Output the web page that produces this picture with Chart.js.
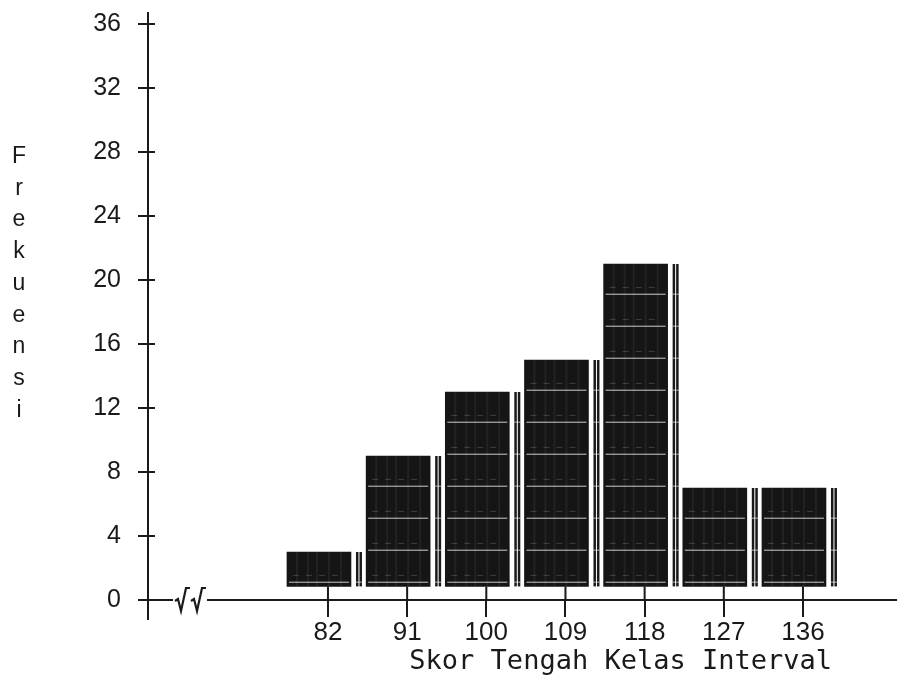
<!DOCTYPE html>
<html>
<head>
<meta charset="utf-8">
<script src="https://cdn.jsdelivr.net/npm/chart.js"></script>
<style>
  body { margin: 0; background: #fff; }
  #wrap { width: 897px; height: 678px; }
</style>
</head>
<body>
<div id="wrap"><canvas id="histo" width="897" height="678"></canvas></div>
<script>
// data
const midpoints = [82, 91, 100, 109, 118, 127, 136];
const frequencies = [3, 9, 13, 15, 21, 7, 7];
const yTicks = [0, 4, 8, 12, 16, 20, 24, 28, 32, 36];
const yTitleLetters = ['F', 'r', 'e', 'k', 'u', 'e', 'n', 's', 'i'];
const xTitle = 'Skor Tengah Kelas Interval';

const INK = '#1a1a1a';
const BAR_BASE = 0.85;   // bars sit a little above the zero line in the print

Chart.defaults.font.family = "'Liberation Sans', Arial, sans-serif";
Chart.defaults.color = INK;

// shift bars a bit left of the tick, as in the print (the striped strip sits on the right)
const shiftBars = {
  id: 'shiftBars',
  afterDatasetsUpdate(chart) {
    chart.getDatasetMeta(0).data.forEach(bar => { bar.x -= 9; });
  }
};

// scan-like texture: white scratch lines and the double strip on the right of each bar
const barTexture = {
  id: 'barTexture',
  afterDatasetsDraw(chart) {
    const ctx = chart.ctx;
    const yScale = chart.scales.y;
    const meta = chart.getDatasetMeta(0);
    ctx.save();
    meta.data.forEach((bar, i) => {
      const w = bar.width;
      const left = bar.x - w / 2;
      const right = bar.x + w / 2;
      const top = bar.y;
      const bottom = bar.base;
      // strip
      ctx.fillStyle = INK;
      ctx.fillRect(right + 5, top, 2.5, bottom - top);
      ctx.fillRect(right + 8.5, top, 2.5, bottom - top);
      // vertical streaks
      ctx.fillStyle = 'rgba(255,255,255,0.06)';
      [9, 20, 29, 41, 53].forEach(dx => ctx.fillRect(left + dx, top, 2, bottom - top));
      // horizontal scratches
      for (let v = 1.15; v < frequencies[i] - 0.3; v += 2) {
        const y = yScale.getPixelForValue(v);
        ctx.fillStyle = 'rgba(255,255,255,0.6)';
        ctx.fillRect(left + 2, y, w - 4, 1.3);
        ctx.fillRect(right + 5, y, 6, 1.1);
        const y2 = yScale.getPixelForValue(v + 0.42);
        if (v + 0.42 < frequencies[i] - 0.3) {
          ctx.fillStyle = 'rgba(255,255,255,0.18)';
          for (let x = left + 6; x < right - 8; x += 13) ctx.fillRect(x, y2, 6, 1);
        }
      }
    });
    ctx.restore();
  }
};

// axis extras: ticks crossing the axes, axis break mark, stacked y title
const axisExtras = {
  id: 'axisExtras',
  afterDraw(chart) {
    const ctx = chart.ctx;
    const x = chart.scales.x;
    const y = chart.scales.y;
    const area = chart.chartArea;
    const zero = y.getPixelForValue(0);
    const base = y.getPixelForValue(BAR_BASE);
    ctx.save();
    ctx.strokeStyle = INK;
    ctx.lineWidth = 2;
    ctx.beginPath();
    // y axis runs a little below zero
    ctx.moveTo(area.left, area.bottom);
    ctx.lineTo(area.left, area.bottom + 20);
    // inner halves of the y ticks
    yTicks.slice(1).forEach(v => {
      const py = y.getPixelForValue(v);
      ctx.moveTo(area.left, py);
      ctx.lineTo(area.left + 7, py);
    });
    // x ticks reach up to the bar bottoms
    midpoints.forEach(v => {
      const px = x.getPixelForValue(v);
      ctx.moveTo(px, zero);
      ctx.lineTo(px, base);
    });
    ctx.stroke();

    // axis break: two root-like strokes
    ctx.fillStyle = '#fff';
    ctx.fillRect(area.left + 25, zero - 3, 34, 6);
    ctx.lineWidth = 2.2;
    ctx.lineJoin = 'miter';
    [area.left + 27, area.left + 43].forEach(x0 => {
      ctx.beginPath();
      ctx.moveTo(x0, zero + 1);
      ctx.lineTo(x0 + 3, zero - 1);
      ctx.lineTo(x0 + 6, zero + 11);
      ctx.lineTo(x0 + 11, zero - 12);
      ctx.lineTo(x0 + 15, zero - 12);
      ctx.stroke();
    });

    // stacked letters of the y title
    ctx.fillStyle = INK;
    ctx.font = "23px 'Liberation Sans'";
    ctx.textAlign = 'center';
    ctx.textBaseline = 'alphabetic';
    yTitleLetters.forEach((ch, i) => ctx.fillText(ch, 19, 163 + i * 31.7));
    ctx.restore();
  }
};

new Chart(document.getElementById('histo'), {
  type: 'bar',
  data: {
    datasets: [{
      data: midpoints.map((m, i) => ({ x: m, y: frequencies[i] })),
      backgroundColor: '#151515',
      borderWidth: 0,
      barThickness: 64,
      base: BAR_BASE
    }]
  },
  options: {
    responsive: false,
    animation: false,
    layout: { padding: { top: 13, left: 0, right: 0, bottom: 0 } },
    plugins: { legend: { display: false }, tooltip: { enabled: false } },
    scales: {
      x: {
        type: 'linear',
        offset: false,
        min: 61.54,
        max: 146.69,
        afterBuildTicks: scale => { scale.ticks = midpoints.map(v => ({ value: v })); },
        afterFit: scale => {
          scale.height = 78;
          scale.paddingLeft = 0; scale.paddingRight = 0;
          scale.paddingTop = 0; scale.paddingBottom = 0;
        },
        grid: { drawOnChartArea: false, offset: false, tickLength: 17, color: INK, lineWidth: 2 },
        border: { display: true, color: INK, width: 2 },
        ticks: { font: { size: 26 }, padding: 0, maxRotation: 0, autoSkip: false },
        title: {
          display: true,
          text: xTitle + '    ',
          align: 'end',
          font: { family: "'DejaVu Sans Mono', monospace", size: 27 },
          padding: { top: 0, bottom: 0 }
        }
      },
      y: {
        min: 0,
        max: 36.69,
        afterBuildTicks: scale => { scale.ticks = yTicks.map(v => ({ value: v })); },
        afterFit: scale => {
          scale.width = 148;
          scale.paddingTop = 0; scale.paddingBottom = 0;
        },
        grid: { drawOnChartArea: false, tickLength: 10, color: INK, lineWidth: 2 },
        border: { display: true, color: INK, width: 2 },
        ticks: { font: { size: 25 }, padding: 17 }
      }
    }
  },
  plugins: [shiftBars, barTexture, axisExtras]
});
</script>
</body>
</html>
